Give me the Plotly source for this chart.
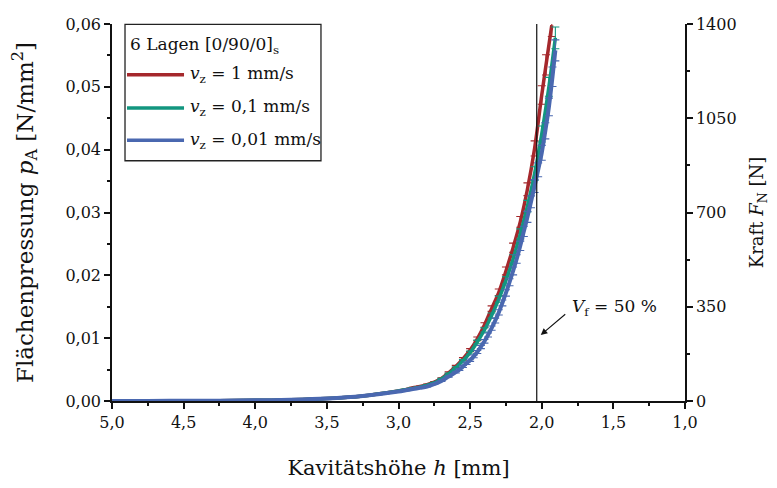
import plotly.graph_objects as go

# ---- data ----
h_red = [5.0, 4.75, 4.5, 4.25, 4.0, 3.75, 3.5, 3.25, 3.0, 2.95, 2.9, 2.85, 2.8, 2.75, 2.7, 2.65, 2.6, 2.55,
         2.5, 2.45, 2.4, 2.35, 2.3, 2.25, 2.2, 2.15, 2.1, 2.05, 2.0, 1.97, 1.93]
p_red = [0.0, 0.00001, 0.00003, 0.00005, 0.0001, 0.0002, 0.0004, 0.0008, 0.0016, 0.0018, 0.0021, 0.0023,
         0.0026, 0.0030, 0.0036, 0.0045, 0.0055, 0.0067, 0.0081, 0.0099, 0.0121, 0.0147, 0.0173,
         0.0207, 0.0244, 0.0285, 0.0337, 0.0402, 0.0487, 0.0535, 0.0598]

h_green = [5.0, 4.75, 4.5, 4.25, 4.0, 3.75, 3.5, 3.25, 3.0, 2.95, 2.9, 2.85, 2.8, 2.75, 2.7, 2.65, 2.6, 2.55,
           2.5, 2.45, 2.4, 2.35, 2.3, 2.25, 2.2, 2.15, 2.1, 2.05, 2.0, 1.95, 1.905]
p_green = [0.0, 0.00001, 0.00003, 0.00005, 0.0001, 0.0002, 0.0004, 0.0008, 0.0016, 0.0018, 0.0020, 0.0022,
           0.0025, 0.0029, 0.0035, 0.0043, 0.0053, 0.0064, 0.0077, 0.0094, 0.0113, 0.0136, 0.0162,
           0.0192, 0.0226, 0.0266, 0.0310, 0.0362, 0.0425, 0.0500, 0.0578]

h_blue = [5.0, 4.75, 4.5, 4.25, 4.0, 3.75, 3.5, 3.25, 3.0, 2.95, 2.9, 2.85, 2.8, 2.75, 2.7, 2.65, 2.6, 2.575,
          2.55, 2.525, 2.5, 2.475, 2.45, 2.425, 2.4, 2.375, 2.35, 2.325, 2.3, 2.275, 2.25, 2.225, 2.2,
          2.175, 2.15, 2.125, 2.1, 2.075, 2.05, 2.025, 2.0, 1.975, 1.95, 1.925, 1.905]
p_blue = [0.0, 0.00001, 0.00003, 0.00005, 0.0001, 0.0002, 0.0004, 0.0008, 0.0015, 0.0017, 0.0019, 0.0021,
          0.0023, 0.0027, 0.0032, 0.0039, 0.0046, 0.0050, 0.0055, 0.0060, 0.0065, 0.0071, 0.0078, 0.0086,
          0.0095, 0.0105, 0.0116, 0.0128, 0.0141, 0.0156, 0.0172, 0.0189, 0.0207, 0.0226, 0.0247, 0.0270,
          0.0293, 0.0317, 0.0342, 0.0368, 0.0395, 0.0430, 0.0468, 0.0516, 0.0558]

series_names = ["<i>v</i><sub>z</sub> = 1 mm/s", "<i>v</i><sub>z</sub> = 0,1 mm/s", "<i>v</i><sub>z</sub> = 0,01 mm/s"]
series_colors = ["#a5282c", "#12967f", "#4a68b0"]
error_percent = 3

legend_title = "6 Lagen [0/90/0]<sub>s</sub>"
vf_h = 2.035          # cavity height where V_f = 50 %
vf_label = "<i>V</i><sub>f</sub> = 50 %"

x_ticks = [5.0, 4.5, 4.0, 3.5, 3.0, 2.5, 2.0, 1.5, 1.0]
y_ticks = [0.0, 0.01, 0.02, 0.03, 0.04, 0.05, 0.06]
y2_ticks = [0, 350, 700, 1050, 1400]

FONT = "DejaVu Serif"
INK = "#111"

fig = go.Figure()
for h, p, name, col, lw in zip([h_red, h_green, h_blue], [p_red, p_green, p_blue],
                               series_names, series_colors, [3.5, 3.5, 4]):
    fig.add_trace(go.Scatter(
        x=h, y=p, name=name, mode="lines", line=dict(color=col, width=lw, shape="spline"),
        error_y=dict(type="percent", value=error_percent, width=4, thickness=1.1, color=col),
        showlegend=False))
# empty trace so that the force axis (right) is drawn
fig.add_trace(go.Scatter(x=[None], y=[None], yaxis="y2", mode="lines", showlegend=False, hoverinfo="skip"))

axis_common = dict(showline=True, linecolor=INK, linewidth=1.5, ticks="outside", ticklen=6,
                   tickwidth=1.5, tickcolor=INK, showgrid=False, zeroline=False,
                   ticklabeloverflow="allow",
                   tickfont=dict(family=FONT, size=16, color=INK))
minor_common = dict(ticklen=3, tickwidth=1.5, ticks="outside", tickcolor=INK)

# the page body adds an 8 px offset, so the figure is 8 px smaller than the window
fig.update_layout(
    width=769, height=480,
    margin=dict(l=104, r=92, t=7, b=87),
    paper_bgcolor="white", plot_bgcolor="white",
    separators=",.",
    font=dict(family=FONT, size=16, color=INK),
    xaxis=dict(range=[5, 1], tickvals=x_ticks, tickformat=".1f",
               minor=dict(dtick=0.25, **minor_common),
               title=dict(text="Kavitätshöhe <i>h</i> [mm]", font=dict(family=FONT, size=21), standoff=29),
               **axis_common),
    yaxis=dict(range=[0, 0.06], tickvals=y_ticks, tickformat=".2f",
               minor=dict(dtick=0.005, **minor_common),
               title=dict(text="Flächenpressung <i>p</i><sub>A</sub> [N/mm<sup>2</sup>]",
                          font=dict(family=FONT, size=23), standoff=28),
               **axis_common),
    yaxis2=dict(range=[0, 1400], tickvals=y2_ticks, overlaying="y", side="right", anchor="x",
                minor=dict(dtick=175, **minor_common),
                title=dict(text="Kraft <i>F</i><sub>N</sub> [N]", font=dict(family=FONT, size=18), standoff=15),
                **axis_common),
)

# vertical marker line at V_f = 50 %
fig.add_shape(type="line", xref="x", yref="y domain", x0=vf_h, x1=vf_h, y0=0, y1=1,
              line=dict(color=INK, width=1.2))
fig.add_annotation(x=2.007, y=0.0105, xref="x", yref="y", text="", showarrow=True,
                   ax=26, ay=-22, arrowhead=2, arrowsize=1.2, arrowwidth=1.1, arrowcolor=INK)
fig.add_annotation(x=1.805, y=0.0149, xref="x", yref="y", text=vf_label, showarrow=False,
                   xanchor="left", yanchor="middle", font=dict(family=FONT, size=17, color=INK))

# legend box (drawn manually to match the reference layout)
fig.add_shape(type="rect", xref="paper", yref="paper", x0=0.0227, x1=0.3647, y0=0.6373, y1=0.999,
              line=dict(color="#222", width=1.3), fillcolor="white", layer="above")
fig.add_annotation(x=0.0279, y=0.944, xref="paper", yref="paper", text=legend_title, showarrow=False,
                   xanchor="left", yanchor="middle", font=dict(family=FONT, size=17, color=INK))
for i, (name, col) in enumerate(zip(series_names, series_colors)):
    yy = [0.8653, 0.7772, 0.6917][i]
    fig.add_shape(type="line", xref="paper", yref="paper", x0=0.0262, x1=0.1257, y0=yy, y1=yy,
                  line=dict(color=col, width=3.5), layer="above")
    fig.add_annotation(x=0.1326, y=yy, xref="paper", yref="paper", text=name, showarrow=False,
                       xanchor="left", yanchor="middle", font=dict(family=FONT, size=17, color=INK))

fig.write_html("out.html")
